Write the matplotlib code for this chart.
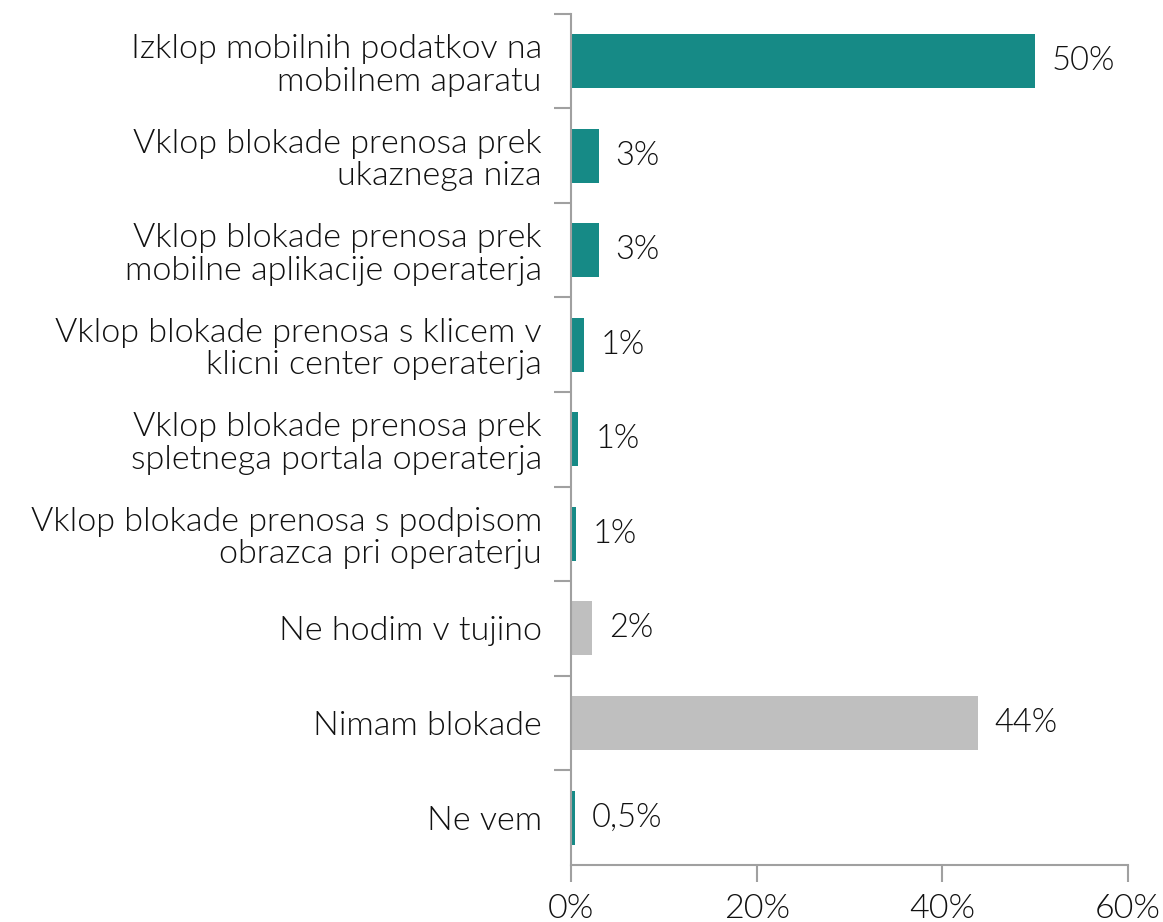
import matplotlib

matplotlib.use("Agg")
import matplotlib.pyplot as plt
from matplotlib.ticker import FixedLocator, PercentFormatter

CATEGORIES = [
    "Izklop mobilnih podatkov na\nmobilnem aparatu",
    "Vklop blokade prenosa prek\nukaznega niza",
    "Vklop blokade prenosa prek\nmobilne aplikacije operaterja",
    "Vklop blokade prenosa s klicem v\nklicni center operaterja",
    "Vklop blokade prenosa prek\nspletnega portala operaterja",
    "Vklop blokade prenosa s podpisom\nobrazca pri operaterju",
    "Ne hodim v tujino",
    "Nimam blokade",
    "Ne vem",
]
VALUES = [50.0, 3.0, 3.0, 1.4, 0.8, 0.55, 2.3, 43.8, 0.4]
VALUE_LABELS = ["50%", "3%", "3%", "1%", "1%", "1%", "2%", "44%", "0,5%"]
GROUP = ["a", "a", "a", "a", "a", "a", "b", "b", "a"]

TEAL = "#168A86"
GREY = "#BFBFBF"
AXIS_C = "#A0A0A0"

plt.rcParams["font.family"] = ["Lato", "DejaVu Sans"]
plt.rcParams["font.weight"] = 300

fig = plt.figure(figsize=(11.63, 9.22), dpi=100)
ax = fig.add_axes([0.491, 0.062, 0.479, 0.923])

ypos = list(range(len(CATEGORIES)))
colors = [TEAL if g == "a" else GREY for g in GROUP]
ax.barh(ypos, VALUES, height=0.57, color=colors)

for y, v, lab in zip(ypos, VALUES, VALUE_LABELS):
    ax.text(v + 1.8, y, lab, va="center", ha="left", fontsize=23.5, color="#111111")

ax.set_xlim(0, 60)
ax.set_ylim(len(CATEGORIES) - 0.5, -0.5)
ax.xaxis.set_major_locator(FixedLocator([0, 20, 40, 60]))
ax.xaxis.set_major_formatter(PercentFormatter(decimals=0))

ax.set_yticks(ypos)
ax.set_yticklabels(CATEGORIES, fontsize=24.6, color="#111111", linespacing=1.1)
ax.tick_params(axis="y", length=0, pad=21)
ax.set_yticks([y + 0.5 for y in ypos[:-1]] + [-0.5], minor=True)
ax.tick_params(axis="y", which="minor", length=12, color=AXIS_C, width=1.5)
for lab in ax.get_yticklabels():
    lab.set_horizontalalignment("right")
    lab.set_multialignment("right")

ax.tick_params(axis="x", length=12, color=AXIS_C, width=1.5, labelsize=24.5,
               pad=9, labelcolor="#111111")

for side in ("top", "right"):
    ax.spines[side].set_visible(False)
for side in ("left", "bottom"):
    ax.spines[side].set_color(AXIS_C)
    ax.spines[side].set_linewidth(1.5)

fig.savefig("out.png", dpi=100)
